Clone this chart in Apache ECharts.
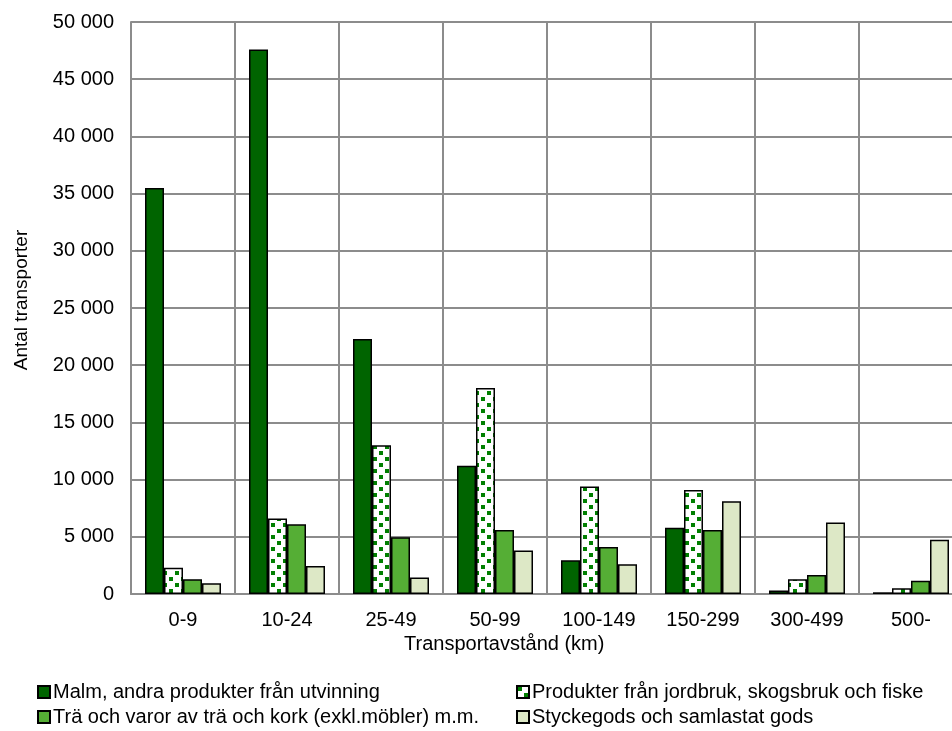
<!DOCTYPE html>
<html>
<head>
<meta charset="utf-8">
<script src="https://cdn.jsdelivr.net/npm/echarts@6/dist/echarts.min.js"></script>
<style>
html,body{margin:0;padding:0;background:#fff;overflow:hidden;width:952px;height:731px;}
#chart{width:963px;height:731px;}
</style>
</head>
<body>
<div id="chart"></div>
<script>
const categories = ['0-9','10-24','25-49','50-99','100-149','150-299','300-499','500-'];
const seriesNames = [
  'Malm, andra produkter från utvinning',
  'Produkter från jordbruk, skogsbruk och fiske',
  'Trä och varor av trä och kork (exkl.möbler) m.m.',
  'Styckegods och samlastat gods'
];
const malm      = [35500, 47600, 22300, 11200, 2950, 5800, 300, 150];
const produkter = [2300, 6600, 13000, 18000, 9400, 9100, 1300, 500];
const tra       = [1300, 6100, 4950, 5600, 4100, 5600, 1650, 1150];
const stycke    = [950, 2450, 1450, 3800, 2600, 8100, 6250, 4750];
const yTicks = [0, 5000, 10000, 15000, 20000, 25000, 30000, 35000, 40000, 45000, 50000];
const xTitle = 'Transportavstånd (km)';
const yTitle = 'Antal transporter';

const FONT = '"Liberation Sans", Arial, sans-serif';

// dotted pattern for "Produkter"
const pc = document.createElement('canvas');
pc.width = 12; pc.height = 12;
const pctx = pc.getContext('2d');
pctx.fillStyle = '#ffffff';
pctx.fillRect(0, 0, 12, 12);
pctx.fillStyle = '#007f00';
pctx.fillRect(1, 1, 4, 4);
pctx.fillRect(7, 7, 4, 4);
const pattern = { image: pc, repeat: 'repeat' };

const colors = ['#006400', pattern, '#55ae35', '#dde8c6'];
const values = [malm, produkter, tra, stycke];

function fmt(v) {
  return String(v).replace(/\B(?=(\d{3})+(?!\d))/g, ' ');
}

// legend layout: two columns, two rows (Malm / Trä left, Produkter / Stycke right)
const legendPos = [
  { left: 37, top: 682 },
  { left: 516, top: 682 },
  { left: 37, top: 707 },
  { left: 516, top: 707 }
];

const chart = echarts.init(document.getElementById('chart'), null, {renderer: 'canvas'});
chart.setOption({
  animation: false,
  backgroundColor: '#ffffff',
  textStyle: { fontFamily: FONT },
  title: {
    text: xTitle,
    left: 404,
    top: 634,
    padding: 0,
    textStyle: { fontFamily: FONT, fontSize: 20, fontWeight: 'normal', color: '#000' }
  },
  grid: { left: 131, top: 22, right: 0, bottom: 137, containLabel: false },
  legend: seriesNames.map((n, i) => ({
    data: [n],
    left: legendPos[i].left,
    top: legendPos[i].top,
    padding: 0,
    itemWidth: 12, itemHeight: 12,
    icon: 'rect',
    selectedMode: false,
    textStyle: { fontFamily: FONT, fontSize: 20, color: '#000', padding: [0, 0, 0, -2] }
  })),
  xAxis: {
    type: 'category',
    data: categories,
    boundaryGap: true,
    axisLine: { lineStyle: { color: '#8c8c8c', width: 2 } },
    axisTick: { show: false },
    axisLabel: { fontFamily: FONT, fontSize: 20, color: '#000', margin: 16, interval: 0 },
    splitLine: { show: true, lineStyle: { color: '#8c8c8c', width: 2 } }
  },
  yAxis: {
    type: 'value',
    min: yTicks[0],
    max: yTicks[yTicks.length - 1],
    interval: yTicks[1] - yTicks[0],
    name: yTitle,
    nameLocation: 'middle',
    nameGap: 100,
    nameTextStyle: { fontFamily: FONT, fontSize: 19, color: '#000', padding: [0, 0, 0, 16] },
    axisLine: { show: true, lineStyle: { color: '#8c8c8c', width: 2 } },
    axisTick: { show: false },
    axisLabel: { fontFamily: FONT, fontSize: 20, color: '#000', margin: 17, formatter: fmt },
    splitLine: { show: true, lineStyle: { color: '#8c8c8c', width: 2 } }
  },
  series: values.map((d, i) => ({
    name: seriesNames[i],
    type: 'bar',
    data: d,
    barWidth: 19,
    barGap: '0%',
    itemStyle: { color: colors[i], borderColor: '#000', borderWidth: 1.5 }
  }))
});
</script>
</body>
</html>
